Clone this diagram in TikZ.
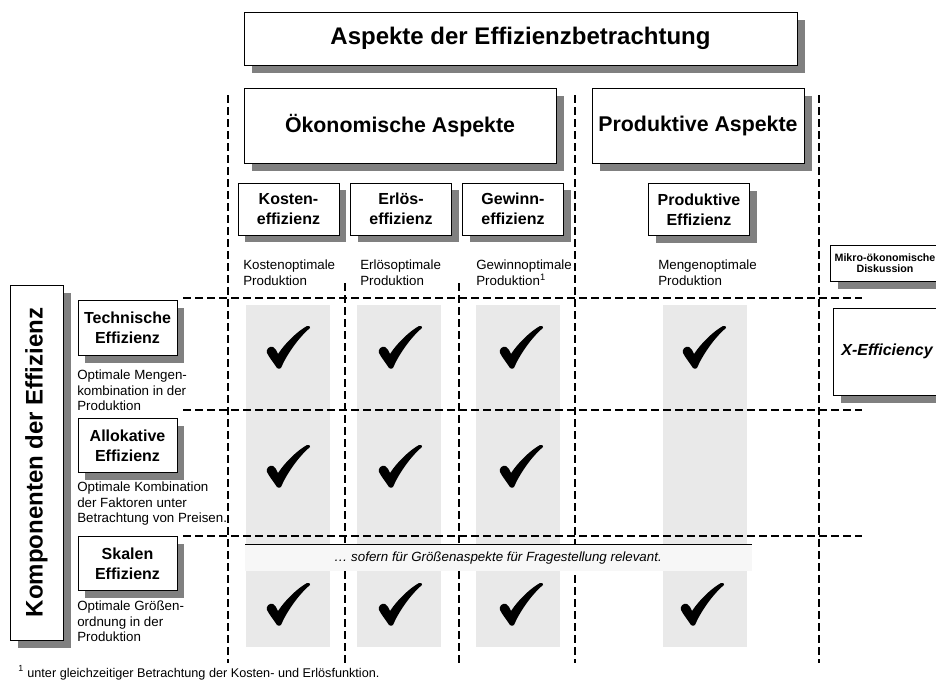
\documentclass[tikz,border=0pt]{standalone}
\usepackage{fontspec}
\setmainfont{Liberation Sans}
\usepackage{graphicx}
\usetikzlibrary{shadows}
\definecolor{shadowgray}{gray}{0.5}
\definecolor{cellgray}{gray}{0.914}
\definecolor{bandgray}{gray}{0.97}
\begin{document}
\begin{tikzpicture}[x=0.75pt,y=-0.75pt,
  boxbase/.style={draw=black, line width=0.6pt, fill=white, inner sep=0pt, outer sep=0pt, align=center},
  bigbox/.style={boxbase, drop shadow={shadow xshift=6pt, shadow yshift=-6pt, fill=shadowgray, opacity=1}},
  smallbox/.style={boxbase, drop shadow={shadow xshift=5.5pt, shadow yshift=-5.5pt, fill=shadowgray, opacity=1}, font=\fontsize{12}{15}\selectfont\bfseries},
  colbox/.style={smallbox, minimum width=75.75pt, minimum height=39pt},
  rowbox/.style={smallbox, minimum width=74.25pt, minimum height=41pt},
  subtext/.style={anchor=north west, inner sep=0pt, align=left, font=\fontsize{10}{11.5}\selectfont},
  gridline/.style={line width=1.2pt, dash pattern=on 6pt off 3pt},
  checkglyph/.pic={
    \fill[black] (-11,21) .. controls (-15,15) and (-19,10) .. (-21,6)
      .. controls (-22,2) and (-19,-1) .. (-15,0)
      .. controls (-13,1) and (-11,4) .. (-10,7)
      .. controls (-2,-5) and (10,-16) .. (19,-21)
      .. controls (21,-21.5) and (22.5,-20.5) .. (22,-19)
      .. controls (10,-9) and (-2,9) .. (-7,21)
      .. controls (-8,22) and (-10,22) .. (-11,21) -- cycle;
  },
]
\useasboundingbox (0,0) rectangle (936,689);

% grey columns
\fill[cellgray] (246,305) rectangle (330,647);
\fill[cellgray] (357,305) rectangle (441,647);
\fill[cellgray] (476,305) rectangle (560,647);
\fill[cellgray] (663,305) rectangle (747,647);

% grid lines
\coordinate (v1t) at (228,95);  \coordinate (v1b) at (228,663);
\coordinate (v2t) at (575,95);  \coordinate (v2b) at (575,663);
\coordinate (v3t) at (819,95);  \coordinate (v3b) at (819,663);
\coordinate (v4t) at (345,283); \coordinate (v4b) at (345,663);
\coordinate (v5t) at (459,283); \coordinate (v5b) at (459,663);
\draw[gridline] (v1t) -- (v1b);
\draw[gridline] (v2t) -- (v2b);
\draw[gridline] (v3t) -- (v3b);
\draw[gridline] (v4t) -- (v4b);
\draw[gridline] (v5t) -- (v5b);
\coordinate (h1l) at (183,298); \coordinate (h1r) at (862,298);
\coordinate (h2l) at (183,410); \coordinate (h2r) at (862,410);
\coordinate (h3l) at (183,536); \coordinate (h3r) at (862,536);
\draw[gridline] (h1l) -- (h1r);
\draw[gridline] (h2l) -- (h2r);
\draw[gridline] (h3l) -- (h3r);

% band
\fill[bandgray] (245,544) rectangle (752,571);
\draw[line width=0.6pt] (245,544) -- (752,544);
\node[inner sep=0pt, font=\fontsize{10}{12}\selectfont\itshape] (band) at (498,558) {… sofern für Größenaspekte für Fragestellung relevant.};

% headers
\node[bigbox, minimum width=414.75pt, minimum height=39.75pt, font=\fontsize{18}{20}\selectfont\bfseries] (title) at (520.5,38.5) {Aspekte der Effizienzbetrachtung};
\node[bigbox, minimum width=234pt, minimum height=56.25pt, font=\fontsize{16}{18}\selectfont\bfseries] (oek) at (400,125.5) {Ökonomische Aspekte};
\node[bigbox, minimum width=159pt, minimum height=56.25pt, font=\fontsize{16}{18}\selectfont\bfseries] (prod) at (698,125.5) {Produktive Aspekte};

\node[colbox] (kosten) at (288.5,209) {Kosten-\\effizienz};
\node[colbox] (erloes) at (401,209) {Erlös-\\effizienz};
\node[colbox] (gewinn) at (513,209) {Gewinn-\\effizienz};
\node[colbox] (prodeff) at (699,209.5) {Produktive\\Effizienz};

\node[subtext] (kostentx) at (243,260) {Kostenoptimale\\Produktion};
\node[subtext] (erloestx) at (360,260) {Erlösoptimale\\Produktion};
\node[subtext] (gewinntx) at (476,260) {Gewinnoptimale\\Produktion\textsuperscript{1}};
\node[subtext] (prodefftx) at (658,260) {Mengenoptimale\\Produktion};

% right column
\node[bigbox, minimum width=82.5pt, minimum height=27pt, font=\fontsize{8}{8.5}\selectfont\bfseries] (mikro) at (885,263) {Mikro-ökonomische\\Diskussion};
\node[bigbox, minimum width=81pt, minimum height=65.25pt, font=\fontsize{12}{14}\selectfont\bfseries\itshape] (xeff) at (887,351.5) {X-Efficiency};

% left column
\node[bigbox, minimum width=39.75pt, minimum height=266.25pt] (komp) at (36.5,462.5) {\rotatebox{90}{\fontsize{18}{20}\selectfont\bfseries Komponenten der Effizienz}};

\node[rowbox] (tech) at (127.5,328) {Technische\\Effizienz};
\node[rowbox] (allok) at (127.5,445.5) {Allokative\\Effizienz};
\node[rowbox] (skal) at (127.5,563.5) {Skalen\\Effizienz};

\node[subtext] (techtx) at (77,370) {Optimale Mengen-\\kombination in der\\Produktion};
\node[subtext] (alloktx) at (77,482) {Optimale Kombination\\der Faktoren unter\\Betrachtung von Preisen.};
\node[subtext] (skaltx) at (77,601) {Optimale Größen-\\ordnung in der\\Produktion};

% checks
\pic at (288,347) {checkglyph};
\pic at (400,347) {checkglyph};
\pic at (521,347) {checkglyph};
\pic at (704,347) {checkglyph};
\pic at (288,466) {checkglyph};
\pic at (400,466) {checkglyph};
\pic at (521,466) {checkglyph};
\pic at (288,604) {checkglyph};
\pic at (400,604) {checkglyph};
\pic at (521,604) {checkglyph};
\pic at (702,604) {checkglyph};

% footnote
\node[anchor=base west, inner sep=0pt, font=\fontsize{9.5}{11}\selectfont] (foot) at (18,677) {\textsuperscript{1} unter gleichzeitiger Betrachtung der Kosten- und Erlösfunktion.};
\end{tikzpicture}
\end{document}
